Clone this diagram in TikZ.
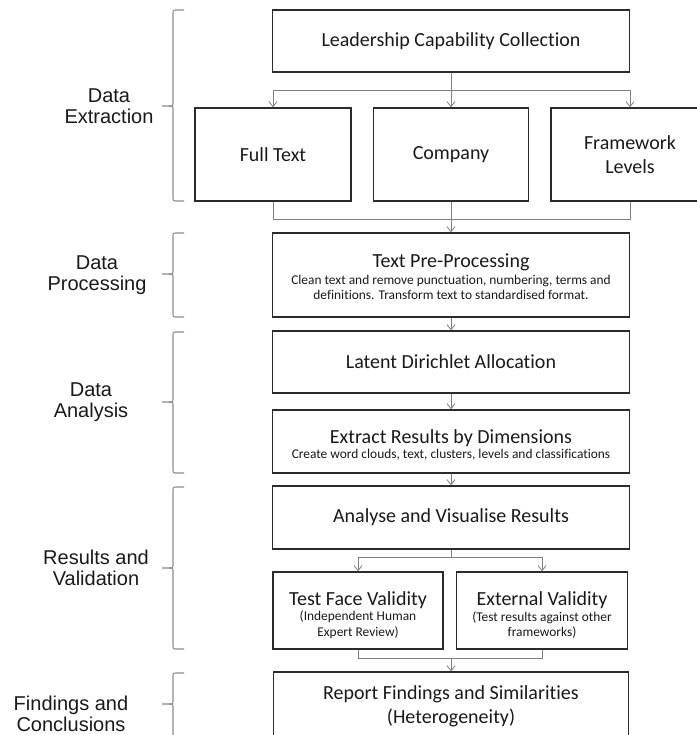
\documentclass[tikz,border=0pt]{standalone}
\usepackage{fontspec}
\setmainfont{Carlito}[RawFeature={-liga;-clig;-dlig}]
\newfontfamily\labfont{Liberation Sans}
\usetikzlibrary{arrows.meta}
\definecolor{boxc}{HTML}{2B2B2B}
\definecolor{linec}{HTML}{808080}
\definecolor{bracec}{HTML}{8C8C8C}
\definecolor{txtc}{HTML}{1A1A1A}
\newcommand{\bigtxt}{\fontsize{20}{24}\selectfont}
\newcommand{\smltxt}{\fontsize{13.4}{15.5}\selectfont}
\newcommand{\tup}[1]{\rule{0pt}{#1}}
\tikzset{
  box/.style={draw=boxc, line width=1.4pt, inner sep=0pt, align=center, text=txtc, font=\bigtxt},
  subbox/.style={box, font=\smltxt},
  conn/.style={draw=linec, line width=0.9pt},
  arr/.style={conn, -{Straight Barb[length=5pt,width=8pt,line width=0.8pt]}},
  grp/.style={align=center, text=txtc, font=\labfont\fontsize{20}{21}\selectfont},
  brace/.style={draw=bracec, line width=1.1pt}
}
\newcommand{\mybrace}[3]{%
  \draw[brace] (184,#1) -- (177,#1) .. controls (173,#1) .. (173,#1+4)
    -- (173,#2-4) .. controls (173,#2) .. (169,#2) -- (162,#2);
  \draw[brace] (169,#2) .. controls (173,#2) .. (173,#2+4)
    -- (173,#3-4) .. controls (173,#3) .. (177,#3) -- (184,#3);
}
\begin{document}
\begin{tikzpicture}[x=1pt,y=-1pt]
\useasboundingbox[fill=white] (0,0) rectangle (696,735);

% boxes
\node[box, minimum width=357pt, minimum height=62pt] (lead) at (451,41) {Leadership Capability Collection};
\node[box, minimum width=156pt, minimum height=93pt] (full) at (273,154.5) {Full Text};
\node[box, minimum width=155pt, minimum height=93pt] (comp) at (451,154.5) {Company};
\node[box, minimum width=158pt, minimum height=93pt] (frame) at (630,154.5) {Framework\\Levels};
\node[subbox, minimum width=357pt, minimum height=84pt] (pre) at (451,275) {{\bigtxt\tup{18pt}Text Pre-Processing}\\[1pt]
  Clean text and remove punctuation, numbering, terms and\\
  definitions. Transform text to standardised format.};
\node[box, minimum width=357pt, minimum height=62pt] (lda) at (451,362) {Latent Dirichlet Allocation};
\node[subbox, minimum width=357pt, minimum height=63pt] (extr) at (451,441.5) {{\bigtxt\tup{21pt}Extract Results by Dimensions}\\[0pt]
  Create word clouds, text, clusters, levels and classifications};
\node[box, minimum width=357pt, minimum height=63pt] (ana) at (451,517.5) {Analyse and Visualise Results};
\node[subbox, minimum width=170pt, minimum height=77pt] (test) at (358,610.5) {{\bigtxt\tup{23pt}Test Face Validity}\\[0pt]
  (Independent Human\\Expert Review)};
\node[subbox, minimum width=171pt, minimum height=77pt] (ext) at (542,610.5) {{\bigtxt\tup{23pt}External Validity}\\[0pt]
  (Test results against other\\frameworks)};
\node[box, minimum width=355pt, minimum height=68pt] (rep) at (451,706) {Report Findings and Similarities\\(Heterogeneity)};

% connectors
\coordinate (b1) at (451,90);
\coordinate (m1) at (451,219);
\coordinate (b2) at (451,557);
\coordinate (m2) at (451,658);
\draw[arr] (lead.south) -- (comp.north);
\draw[arr] (b1) -| (full.north);
\draw[arr] (b1) -| (frame.north);
\draw[conn] (full.south) |- (m1);
\draw[conn] (frame.south) |- (m1);
\draw[arr] (comp.south) -- (pre.north);
\draw[arr] (pre.south) -- (lda.north);
\draw[arr] (lda.south) -- (extr.north);
\draw[arr] (extr.south) -- (ana.north);
\draw[conn] (ana.south) -- (b2);
\draw[arr] (b2) -| (test.north);
\draw[arr] (b2) -| (ext.north);
\draw[conn] (test.south) |- (m2);
\draw[conn] (ext.south) |- (m2);
\draw[arr] (m2) -- (rep.north);

% braces
\mybrace{10}{106}{201}
\mybrace{233}{274}{317}
\mybrace{332}{402}{473}
\mybrace{487}{568}{649}
\mybrace{673}{704}{740}

% group labels
\node[grp] (g1) at (109,106) {Data\\Extraction};
\node[grp] (g2) at (97,275) {Data\\Processing};
\node[grp] (g3) at (91,402) {Data\\Analysis};
\node[grp] (g4) at (96,568) {Results and\\Validation};
\node[grp] (g5) at (71,714) {Findings and\\Conclusions};
\end{tikzpicture}
\end{document}
